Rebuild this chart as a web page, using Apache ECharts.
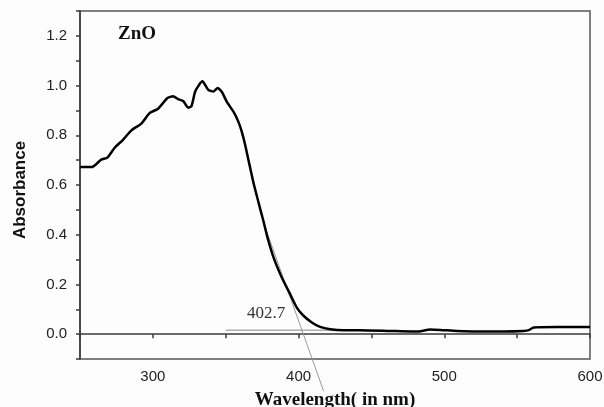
<!DOCTYPE html>
<html>
<head>
<meta charset="utf-8">
<script src="https://cdn.jsdelivr.net/npm/echarts@6/dist/echarts.min.js"></script>
<style>html,body{margin:0;padding:0;background:#fdfdfd;}#chart{width:604px;height:407px;}</style>
</head>
<body>
<div id="chart"></div>
<script>
// Wavelength (nm) and absorbance
var wavelength = [250, 258, 264.6, 268.8, 273.8, 279.5, 285.3, 292.1, 297.9, 303.6, 310, 313.9, 317.3, 320.8, 324.2, 326.5, 329.2, 334, 338, 341.5, 344.5, 347.4, 350.8, 355.4, 358.8, 361.1, 363.4, 366, 369, 372.5, 376, 378.5, 382.8, 388.5, 394.2, 398.8, 403.4, 409.1, 414.8, 421.7, 430.8, 442, 463, 477, 482, 490.5, 499.6, 508.8, 522.5, 540.8, 554.5, 558, 561.4, 577.4, 600];
var absorbance = [0.672, 0.672, 0.702, 0.71, 0.75, 0.782, 0.82, 0.847, 0.89, 0.907, 0.95, 0.957, 0.945, 0.938, 0.911, 0.917, 0.978, 1.017, 0.983, 0.976, 0.99, 0.974, 0.934, 0.894, 0.853, 0.813, 0.76, 0.69, 0.61, 0.53, 0.452, 0.392, 0.309, 0.228, 0.161, 0.107, 0.074, 0.047, 0.029, 0.02, 0.016, 0.016, 0.013, 0.011, 0.011, 0.019, 0.016, 0.013, 0.011, 0.011, 0.013, 0.016, 0.027, 0.029, 0.029];
// Tangent construction lines
var tangentX = [376.5, 417.2];
var tangentY = [0.44, -0.229];
var baseX = [350, 425];
var baseY = [0.016, 0.016];
var edgeLabel = '402.7';
var sampleLabel = 'ZnO';

function pairs(xs, ys) { return xs.map(function (x, i) { return [x, ys[i]]; }); }

var chart = echarts.init(document.getElementById('chart'));
var axisColor = '#3a3a3a';
chart.setOption({
  backgroundColor: '#fdfdfd',
  animation: false,
  grid: { left: 80, right: 14, top: 11, bottom: 48, containLabel: false, outerBoundsMode: 'none', show: true, borderColor: '#555', borderWidth: 1.5, backgroundColor: 'transparent' },
  xAxis: {
    type: 'value', min: 250, max: 600, interval: 50,
    name: 'Wavelength( in nm)', nameLocation: 'middle', nameGap: 32,
    nameTextStyle: { fontFamily: 'Liberation Serif', fontWeight: 'bold', fontSize: 19, color: '#111' },
    axisLine: { lineStyle: { color: axisColor, width: 1.5 } },
    axisTick: { inside: false, length: 4, lineStyle: { color: axisColor, width: 1.5 } },
    splitLine: { show: false },
    axisLabel: {
      margin: 10, fontFamily: 'Liberation Sans', fontSize: 15, color: '#222',
      formatter: function (v) { return v % 100 === 0 ? String(v) : ''; }
    }
  },
  yAxis: {
    type: 'value', min: -0.1, max: 1.3, interval: 0.1,
    name: 'Absorbance', nameLocation: 'middle', nameGap: 51, nameRotate: 90,
    nameTextStyle: { fontFamily: 'Liberation Sans', fontWeight: 'bold', fontSize: 17, color: '#111', padding: [0, 0, 0, -10] },
    axisLine: { lineStyle: { color: axisColor, width: 1.5 } },
    axisTick: { inside: false, length: 4, lineStyle: { color: axisColor, width: 1.5 } },
    splitLine: { show: false },
    axisLabel: {
      margin: 13, fontFamily: 'Liberation Sans', fontSize: 15, color: '#222',
      formatter: function (v) { var k = Math.round(v * 10); return (k % 2 === 0) ? v.toFixed(1) : ''; }
    }
  },
  series: [
    {
      type: 'line', data: pairs(baseX, baseY), symbol: 'none', silent: true, clip: false,
      lineStyle: { color: '#888', width: 1 }, z: 1
    },
    {
      type: 'line', data: pairs(tangentX, tangentY), symbol: 'none', silent: true, clip: false,
      lineStyle: { color: '#999', width: 1 }, z: 1
    },
    {
      type: 'line', data: pairs(wavelength, absorbance), symbol: 'none', smooth: 0.2,
      lineStyle: { color: '#000', width: 2.5 }, z: 3
    }
  ],
  graphic: [
    { type: 'text', left: 118, top: 25, style: { text: sampleLabel, font: 'bold 19px "Liberation Serif"', fill: '#111' } },
    { type: 'text', left: 247, top: 305, style: { text: edgeLabel, font: '17px "Liberation Serif"', fill: '#333' } }
  ]
});
</script>
</body>
</html>
